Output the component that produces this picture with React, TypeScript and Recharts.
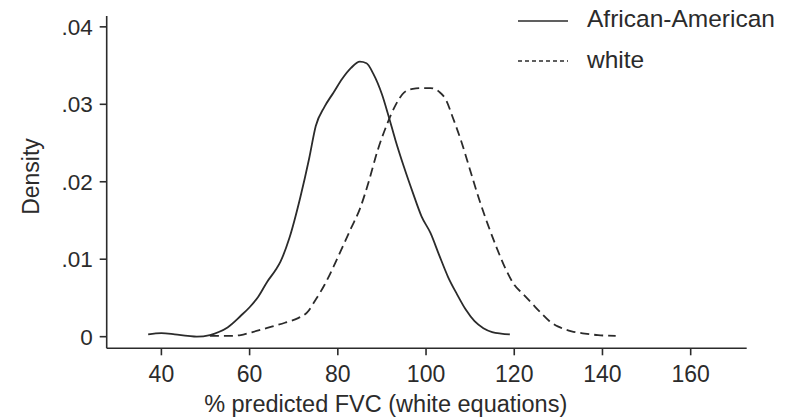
import React from 'react';
import { LineChart, Line, XAxis, YAxis, Legend, Label } from 'recharts';

// kernel density of % predicted FVC
const afAmFvc = [37, 40, 43, 46, 48, 51, 53, 55, 58, 60, 62, 64, 66, 67, 69, 71.5, 73.5, 75, 77, 79, 81, 83, 85, 86.5, 88, 90, 91.5, 93, 95, 97, 99, 101, 103, 105, 107, 109, 111, 113, 115, 117, 119];
const afAmDensity = [0.0003, 0.00045, 0.0003, 0.0001, 0.0, 0.0002, 0.0006, 0.0012, 0.0027, 0.0038, 0.0052, 0.0071, 0.0087, 0.0097, 0.0127, 0.018, 0.023, 0.0272, 0.0297, 0.0315, 0.0333, 0.0347, 0.0355, 0.0353, 0.034, 0.0313, 0.0285, 0.0255, 0.0219, 0.0186, 0.0155, 0.0134, 0.0105, 0.0077, 0.0055, 0.0035, 0.002, 0.0011, 0.0006, 0.0004, 0.0003];

const whiteFvc = [51, 55, 58, 60, 62, 65, 68, 71, 73, 75, 77, 79, 81, 83, 85, 87, 89, 91, 93, 95, 97, 99, 101, 103, 104.5, 106, 108, 110, 112, 114, 116, 118, 120, 122, 124, 126, 128, 130, 133, 136, 139, 143];
const whiteDensity = [0.0001, 0.0001, 0.0002, 0.0005, 0.0008, 0.0013, 0.0018, 0.0024, 0.0031, 0.0048, 0.0067, 0.009, 0.0115, 0.014, 0.0165, 0.02, 0.024, 0.0272, 0.0298, 0.0315, 0.032, 0.0321, 0.0321, 0.0316, 0.0306, 0.0284, 0.0252, 0.0215, 0.0178, 0.0145, 0.0115, 0.0088, 0.0067, 0.0055, 0.0043, 0.0031, 0.002, 0.0013, 0.0007, 0.0004, 0.0002, 0.0001];

const xTicks = [40, 60, 80, 100, 120, 140, 160];
const yTicks = [0, 0.01, 0.02, 0.03, 0.04];
const seriesNames = ['African-American', 'white'];

const ink = '#2b2b2b';
const font = '"Liberation Sans", Arial, Helvetica, sans-serif';

const toPoints = (xs: number[], ys: number[]) => xs.map((x, i) => ({ x, y: ys[i] }));
const afAmData = toPoints(afAmFvc, afAmDensity);
const whiteData = toPoints(whiteFvc, whiteDensity);

const fmtDensity = (v: number) => (v === 0 ? '0' : v.toFixed(2).replace(/^0/, ''));

const renderLegend = () => (
  <svg width={282} height={80} style={{ fontFamily: font }}>
    <line x1={8} x2={58} y1={21} y2={21} stroke={ink} strokeWidth={1.6} />
    <text x={77} y={26.7} fontSize={24.5} fill={ink}>{seriesNames[0]}</text>
    <line x1={8} x2={58} y1={61} y2={61} stroke={ink} strokeWidth={1.4} strokeDasharray="4 3" />
    <text x={77} y={68} fontSize={24.5} fill={ink}>{seriesNames[1]}</text>
  </svg>
);

const XTitle = (props: any) => {
  const { viewBox } = props;
  return (
    <text x={viewBox.x + viewBox.width / 2 - 41} y={411.5} textAnchor="middle" fontSize={23.5} fill={ink}>
      % predicted FVC (white equations)
    </text>
  );
};

const YTitle = () => (
  <text x={38.5} y={176.5} transform="rotate(-90, 38.5, 176.5)" textAnchor="middle" fontSize={23} fill={ink}>
    Density
  </text>
);

export default function App() {
  return (
    <div style={{ position: 'absolute', left: 0, top: 0, width: 792, height: 418, background: '#fff', fontFamily: font }}>
      <LineChart width={792} height={418} margin={{ top: 16, right: 45.3, left: 6.7, bottom: 0 }}>
        <XAxis
          type="number"
          dataKey="x"
          domain={[27.6, 172.7]}
          ticks={xTicks}
          allowDataOverflow
          height={69.7}
          tickSize={7}
          tickMargin={10.5}
          stroke={ink}
          strokeWidth={1.6}
          tick={{ fill: ink, fontSize: 23 }}
        >
          <Label content={<XTitle />} />
        </XAxis>
        <YAxis
          type="number"
          domain={[-0.0015, 0.0414]}
          ticks={yTicks}
          allowDataOverflow
          width={100}
          tickSize={7}
          tickMargin={7}
          stroke={ink}
          strokeWidth={1.6}
          tickFormatter={fmtDensity}
          tick={{ fill: ink, fontSize: 22.5 }}
        >
          <Label content={<YTitle />} />
        </YAxis>
        <Legend
          layout="vertical"
          align="center"
          verticalAlign="middle"
          content={renderLegend}
          wrapperStyle={{ left: 510, top: 0, width: 282, height: 80 }}
        />
        <Line
          data={afAmData}
          dataKey="y"
          name={seriesNames[0]}
          type="monotone"
          stroke={ink}
          strokeWidth={1.8}
          dot={false}
          activeDot={false}
          isAnimationActive={false}
        />
        <Line
          data={whiteData}
          dataKey="y"
          name={seriesNames[1]}
          type="monotone"
          stroke={ink}
          strokeWidth={1.8}
          strokeDasharray="9 5"
          dot={false}
          activeDot={false}
          isAnimationActive={false}
        />
      </LineChart>
    </div>
  );
}
